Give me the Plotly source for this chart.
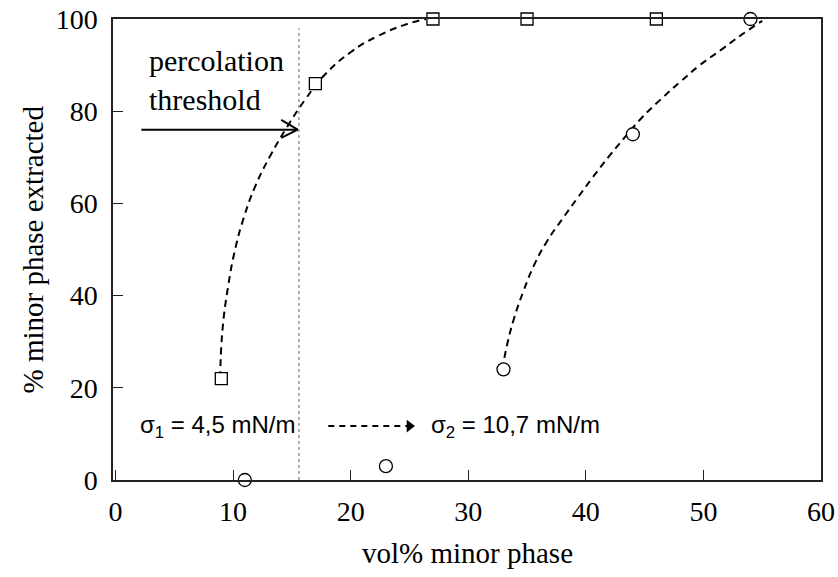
import plotly.graph_objects as go

# --- data ---
sq_x = [9, 17, 27, 35, 46]
sq_y = [22, 86, 100, 100, 100]
ci_x = [11, 23, 33, 44, 54]
ci_y = [0, 3, 24, 75, 100]

curve1_x = [8.9, 9.1, 9.6, 10.2, 10.9, 11.9, 13.2, 14.6, 16.1, 17.8, 20.0, 22.3, 24.8, 26.4]
curve1_y = [22.0, 32.5, 42.3, 50.3, 56.8, 63.8, 70.5, 76.6, 82.4, 87.9, 92.8, 96.3, 98.9, 100.0]
curve2_x = [32.9, 33.3, 33.9, 34.7, 35.6, 36.7, 38.0, 39.3, 40.6, 42.0, 43.4, 44.8, 46.3, 48.0, 49.7, 51.5, 53.2, 55.0]
curve2_y = [23.9, 29.3, 35.1, 41.0, 46.6, 51.8, 56.6, 61.2, 65.7, 70.3, 74.6, 78.7, 82.4, 86.3, 90.0, 93.3, 96.5, 99.6]

threshold_x = 15.6
perc_arrow_x = [2.2, 15.5]
perc_arrow_y = 76
shift_arrow_x = [18.1, 25.0]
shift_arrow_y = 11.7

x_ticks = [0, 10, 20, 30, 40, 50, 60]
y_ticks = [0, 20, 40, 60, 80, 100]

serif = "Liberation Serif"
sans = "Liberation Sans"

fig = go.Figure()

fig.add_trace(go.Scatter(x=curve1_x, y=curve1_y, mode="lines", line_shape="spline",
                         line=dict(color="black", width=2, dash="7px,5px", smoothing=1.3), hoverinfo="skip"))
fig.add_trace(go.Scatter(x=curve2_x, y=curve2_y, mode="lines", line_shape="spline",
                         line=dict(color="black", width=2, dash="7px,5px", smoothing=1.3), hoverinfo="skip"))
fig.add_trace(go.Scatter(x=sq_x, y=sq_y, mode="markers", cliponaxis=False,
                         marker=dict(symbol="square", size=12, color="white",
                                     line=dict(color="black", width=1.3))))
fig.add_trace(go.Scatter(x=ci_x, y=ci_y, mode="markers", cliponaxis=False,
                         marker=dict(symbol="circle", size=13, color="white",
                                     line=dict(color="black", width=1.3))))

# dashed shift arrow
fig.add_trace(go.Scatter(x=shift_arrow_x, y=[shift_arrow_y] * 2, mode="lines",
                         line=dict(color="black", width=2, dash="6px,5px"), hoverinfo="skip"))
fig.add_trace(go.Scatter(x=[shift_arrow_x[1]], y=[shift_arrow_y], mode="markers",
                         marker=dict(symbol="triangle-right", size=11, color="black"), hoverinfo="skip"))

# percolation threshold line
fig.add_shape(type="line", x0=threshold_x, x1=threshold_x, y0=0, y1=98,
              line=dict(color="#999999", width=1.5, dash="dot"))
# percolation arrow (open head)
fig.add_shape(type="line", x0=perc_arrow_x[0], x1=perc_arrow_x[1], y0=perc_arrow_y, y1=perc_arrow_y,
              line=dict(color="black", width=2))
fig.add_shape(type="line", x0=perc_arrow_x[1], x1=perc_arrow_x[1] - 1.4, y0=perc_arrow_y, y1=perc_arrow_y + 2.1,
              line=dict(color="black", width=2))
fig.add_shape(type="line", x0=perc_arrow_x[1], x1=perc_arrow_x[1] - 1.4, y0=perc_arrow_y, y1=perc_arrow_y - 1.8,
              line=dict(color="black", width=2))

fig.add_annotation(x=2.65, y=86.8, text="percolation<br>threshold", showarrow=False,
                   xanchor="left", yanchor="middle", align="left",
                   font=dict(family=serif, size=30, color="black"))
fig.add_annotation(x=1.9, y=11.5, text="σ<sub>1</sub> = 4,5 mN/m", showarrow=False,
                   xanchor="left", yanchor="middle", font=dict(family=sans, size=24, color="black"))
fig.add_annotation(x=26.65, y=11.5, text="σ<sub>2</sub> = 10,7 mN/m", showarrow=False,
                   xanchor="left", yanchor="middle", font=dict(family=sans, size=24, color="black"))

fig.add_annotation(x=0.5, y=-0.158, xref="paper", yref="paper", text="vol% minor phase",
                   showarrow=False, xanchor="center", yanchor="middle",
                   font=dict(family=serif, size=29, color="black"))
fig.add_annotation(x=-0.113, y=0.5, xref="paper", yref="paper", text="% minor phase extracted",
                   showarrow=False, textangle=-90, xanchor="center", yanchor="middle",
                   font=dict(family=serif, size=29, color="black"))

axis_common = dict(showgrid=False, zeroline=False, showline=True, linecolor="#222222", linewidth=1.5,
                   mirror=True, ticks="inside", ticklen=10, tickwidth=1.2, tickcolor="#222222",
                   ticklabeloverflow="allow",
                   tickfont=dict(family=serif, size=28, color="black"))

fig.update_xaxes(range=[-0.21, 60], tickvals=x_ticks, ticktext=[str(v) for v in x_ticks],
                 ticklabelstandoff=6, **axis_common)
fig.update_yaxes(range=[0, 100], tickvals=y_ticks, ticktext=[str(v) for v in y_ticks],
                 ticklabelstandoff=8, **axis_common)

fig.update_layout(width=838, height=577, margin=dict(l=113, r=17, t=19, b=97, autoexpand=False),
                  plot_bgcolor="white", paper_bgcolor="white", showlegend=False)

# remove the browser's default 8px body margin so the figure fills the window exactly
fig.write_html("out.html", config={"displayModeBar": False},
               post_script="document.body.style.margin='0px';")
